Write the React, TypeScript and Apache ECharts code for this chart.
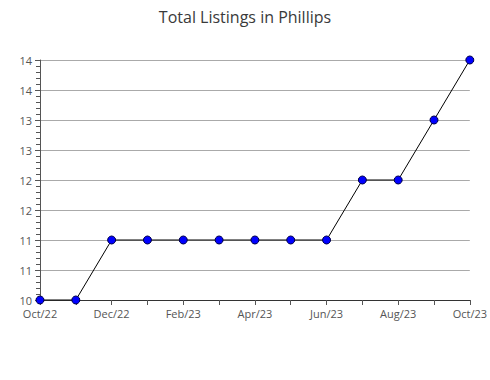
import React, { useEffect, useRef } from "react";
import * as echarts from "echarts";

const months = [
  "Oct/22", "Nov/22", "Dec/22", "Jan/23", "Feb/23", "Mar/23", "Apr/23",
  "May/23", "Jun/23", "Jul/23", "Aug/23", "Sep/23", "Oct/23",
];
const listings = [10, 10, 11, 11, 11, 11, 11, 11, 11, 12, 12, 13, 14];
const chartTitle = "Total Listings in Phillips";

export default function App() {
  const ref = useRef<HTMLDivElement>(null);
  useEffect(() => {
    if (!ref.current) return;
    const chart = echarts.init(ref.current, null, { renderer: "svg" });
    chart.setOption({
      animation: false,
      title: {
        text: chartTitle,
        left: "center",
        top: 4,
        textStyle: {
          fontFamily: "Open Sans",
          fontSize: 16,
          fontWeight: "normal",
          color: "#3a3a3a",
        },
      },
      grid: { left: 40, right: 20, top: 60, bottom: 80 },
      xAxis: {
        type: "category",
        data: months,
        boundaryGap: false,
        axisLine: { lineStyle: { color: "#333", width: 1 } },
        axisTick: { show: true, interval: 0, length: 5, lineStyle: { color: "#555" } },
        axisLabel: {
          interval: 1,
          color: "#555",
          fontFamily: "Open Sans",
          fontSize: 11,
          lineHeight: 11,
          margin: 8,
        },
        splitLine: { show: false },
      },
      yAxis: {
        type: "value",
        min: 10,
        max: 14,
        interval: 0.5,
        axisLine: { show: true, lineStyle: { color: "#555", width: 1 } },
        axisTick: { show: true, length: 5, lineStyle: { color: "#555" } },
        minorTick: { show: true, splitNumber: 5, length: 4, lineStyle: { color: "#555" } },
        axisLabel: {
          color: "#555",
          fontFamily: "Open Sans",
          fontSize: 11,
          lineHeight: 10,
          margin: 8,
          formatter: (v: number) => String(Math.round(v)),
        },
        splitLine: { show: true, lineStyle: { color: "#aaa", width: 1 } },
      },
      series: [
        {
          type: "line",
          data: listings,
          symbol: "circle",
          symbolSize: 8,
          lineStyle: { color: "#000", width: 1 },
          itemStyle: { color: "#0000ff", borderColor: "#00004a", borderWidth: 1 },
        },
      ],
    });
    return () => chart.dispose();
  }, []);
  return <div ref={ref} style={{ width: 490, height: 380, position: "absolute", left: 0, top: 0 }} />;
}
